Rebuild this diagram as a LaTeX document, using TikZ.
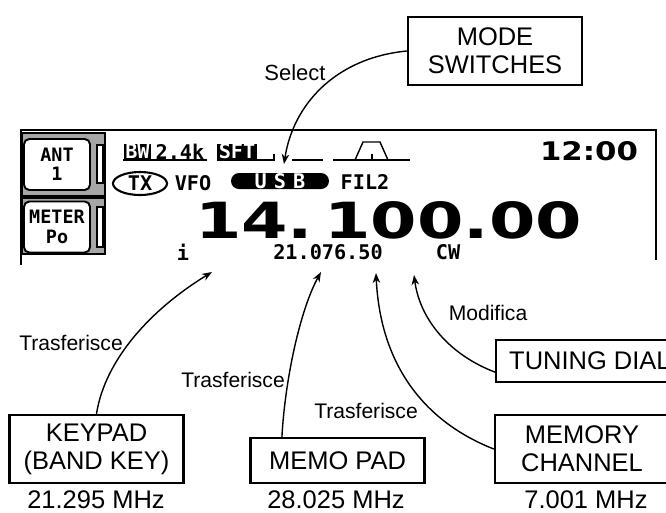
\documentclass[tikz,border=0pt]{standalone}
\usepackage{fontspec}
\setmainfont{Liberation Sans}
\newfontfamily\lcdfont{DejaVu Sans Mono}
\newfontfamily\lcdbig{DejaVu Sans}
\usetikzlibrary{arrows.meta, calc, shapes.geometric}

\tikzset{
  labelbox/.style={draw, line width=1.4pt, align=center, inner sep=0pt, minimum width=3.48cm, font=\fontsize{14.5}{16}\selectfont},
  verb/.style={font=\fontsize{12}{14}\selectfont, inner sep=0pt},
  freq/.style={font=\fontsize{14.5}{16}\selectfont, inner sep=0pt},
  lcd/.style={font=\lcdfont\bfseries\fontsize{11.5}{13}\selectfont, inner sep=0pt},
  lcdinv/.style={lcd, fill=black, text=white, inner xsep=1pt, minimum height=0.26cm},
  softkey/.style={draw, line width=1.1pt, fill=white, rounded corners=3pt, align=center, minimum width=1.32cm, minimum height=1.02cm, inner sep=0pt, font=\lcdfont\bfseries\fontsize{10.5}{11}\selectfont},
  link/.style={line width=0.8pt},
}

\begin{document}
\begin{tikzpicture}[x=0.02cm, y=-0.02cm, >={Stealth[length=2mm, width=1.5mm]}]
  \useasboundingbox (0,0) rectangle (666,512);
  \clip (0,0) rectangle (666,512);

  % display frame and soft keys
  \draw[line width=1.3pt] (21,265) -- (21,130) -- (656,130) -- (656,260);
  \draw[line width=0.9pt, fill=black!35] (22,133) rectangle (105,196);
  \draw[line width=0.9pt, fill=black!35] (22,198) rectangle (105,254);
  \draw[line width=0.6pt, fill=white] (97,145) rectangle (103,183);
  \draw[line width=0.6pt, fill=white] (97,207) rectangle (103,247);
  \node[softkey] (antkey) at (57,164.5) {ANT\\1};
  \node[softkey] (meterkey) at (57,227) {METER\\Po};

  % first row
  \node[lcdinv] (bwtag) at (137.5,151.5) {BW};
  \node[lcd] (bwval) at (180,151.5) {2.4k};
  \draw[line width=0.8pt] (123,160) -- (207,160);
  \node[lcdinv, minimum width=0.8cm] (sfttag) at (237,151.5) {SFT};
  \draw[line width=0.8pt] (217,160) -- (274,160) -- (274,154);
  \draw[line width=0.8pt] (292,160) -- (323,160);
  \draw[line width=0.8pt] (333,160) -- (410,160);
  \draw[line width=0.8pt] (355,160) -- (363,142) -- (380,142) -- (388,160);
  \draw[line width=0.8pt] (372,154) -- (372,160);
  \node[inner sep=0pt] (clock) at (589,151.5) {\resizebox{1.96cm}{0.38cm}{\lcdbig\bfseries 12:00}};

  % second row
  \node[lcd, draw, ellipse, line width=1.2pt, minimum width=1.08cm, minimum height=0.46cm] (txmark) at (140,183.5) {TX};
  \node[lcd] (vfo) at (193,183) {VFO};
  \node[lcd, fill=black, text=white, rounded corners=0.16cm, minimum width=1.96cm, minimum height=0.32cm] (modetag) at (280,181) {U\hspace{4pt}S\hspace{4pt}B};
  \node[lcd] (filter) at (365,182) {FIL2};

  % main frequency and third row
  \node[inner sep=0pt] (mainfreq) at (388.5,220.5) {\resizebox{7.74cm}{0.74cm}{\lcdbig\bfseries 14.\,100.00}};
  \node[lcd] (stepmark) at (183,252) {i};
  \node[lcd] (subfreq) at (328,252) {21.076.50};
  \node[lcd] (submode) at (448,252) {CW};

  \coordinate (selecttip) at (284,164);
  \coordinate (kptip) at (212,272);
  \coordinate (mptip) at (321,272);
  \coordinate (mctip) at (376,273);
  \coordinate (tdtip) at (414,275);

  % controls
  \node[labelbox, minimum height=1.36cm] (modesw) at (495,51) {MODE\\SWITCHES};
  \node[labelbox, minimum height=1.36cm] (keypad) at (96.5,449) {KEYPAD\\(BAND KEY)};
  \node[labelbox, minimum height=0.9cm] (memopad) at (337.5,460.5) {MEMO PAD};
  \node[labelbox, minimum height=1.36cm] (memchan) at (582,449) {MEMORY\\CHANNEL};
  \node[labelbox, minimum height=0.84cm, minimum width=0pt, inner xsep=0.26cm, anchor=west] (tuning) at (495,361) {TUNING DIAL};

  \node[freq] (kpfreq) at (96,500) {21.295 MHz};
  \node[freq] (mpfreq) at (336,500) {28.025 MHz};
  \node[freq] (mcfreq) at (586,500) {7.001 MHz};

  \node[verb, font=\fontsize{12.5}{14}\selectfont] (selectlbl) at (295,73) {Select};
  \node[verb] (kplbl) at (71,343) {Trasferisce};
  \node[verb] (mplbl) at (233,380) {Trasferisce};
  \node[verb] (mclbl) at (366,411) {Trasferisce};
  \node[verb] (tdlbl) at (488,313) {Modifica};

  \draw[link, ->] (modesw.west) .. controls (335,58) and (293,105) .. (selecttip);
  \draw[link, ->] (keypad.north) .. controls (105,360) and (150,310) .. (kptip);
  \draw[link, ->] ($(memopad.north west)!0.185!(memopad.north east)$) .. controls (285,380) and (300,310) .. (mptip);
  \draw[link, ->] (memchan.west) .. controls (420,420) and (380,360) .. (mctip);
  \draw[link, ->] ($(tuning.south west)!0.25!(tuning.north west)$) .. controls (450,355) and (420,320) .. (tdtip);
\end{tikzpicture}
\end{document}
